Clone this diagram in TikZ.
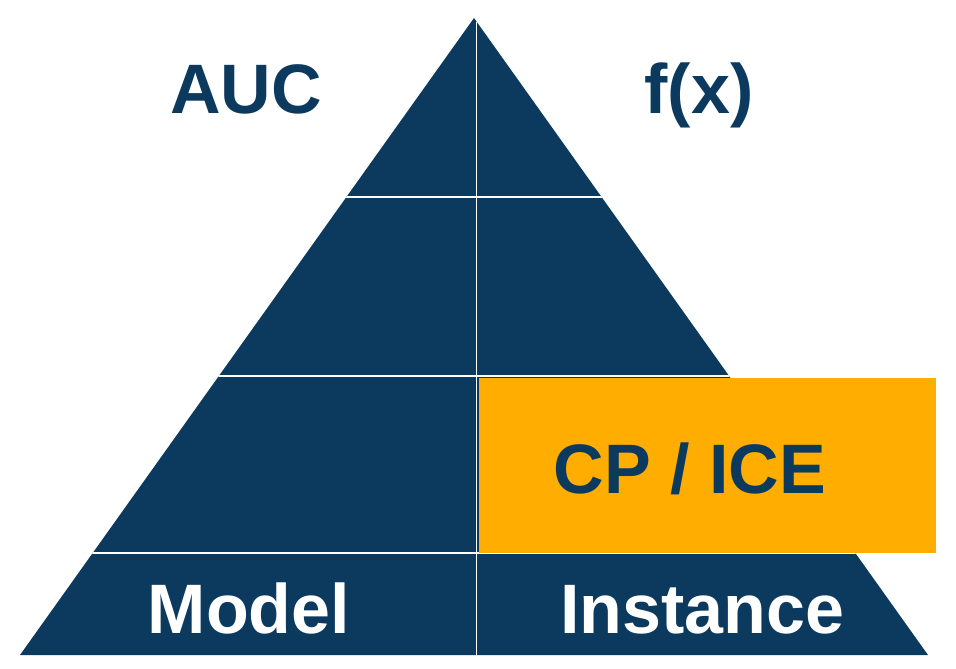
\documentclass[tikz,border=0pt]{standalone}
\usepackage{fontspec}
\setmainfont{Liberation Sans}
\definecolor{pyrblue}{HTML}{0B3A5E}
\definecolor{pyrorange}{HTML}{FFAD00}

\begin{document}
\begin{tikzpicture}[x=0.75pt,y=-0.75pt,
  lbl/.style={anchor=base,inner sep=0pt,font=\fontsize{52.5}{52.5}\selectfont\bfseries},
  sep/.style={white,line width=2pt}]
\useasboundingbox (0,0) rectangle (956,668);
\coordinate (top) at (474,18);
\coordinate (bl) at (20,655);
\coordinate (br) at (928,655);

% pyramid
\fill[pyrblue] (top) -- (bl) -- (br) -- cycle;
\begin{scope}
\clip (top) -- (bl) -- (br) -- cycle;
\draw[sep] (0,197) -- (956,197);
\draw[sep] (0,376) -- (956,376);
\draw[sep] (0,553) -- (956,553);
\draw[sep,line width=1.4pt] (476.5,0) -- (476.5,668);
\end{scope}

% highlighted cell
\fill[pyrorange] (479,377.5) rectangle (936,552.5);

\node[lbl,pyrblue] (auc) at (246,113) {AUC};
\node[lbl,pyrblue] (fx) at (699,113) {f(x)};
\node[lbl,pyrblue] (cpice) at (690,493) {CP / ICE};
\node[lbl,white] (model) at (249,633) {Model};
\node[lbl,white] (inst) at (702,633) {Instance};
\end{tikzpicture}
\end{document}
